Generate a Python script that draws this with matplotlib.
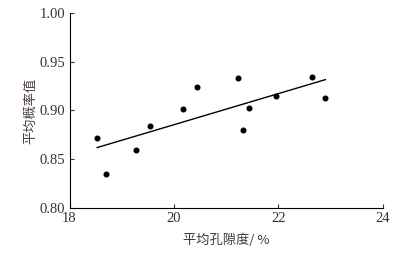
import numpy as np
import matplotlib
matplotlib.use("Agg")
import matplotlib.pyplot as plt

# 平均孔隙度 (%) 与 平均概率值
kongxidu = [18.53, 18.69, 19.27, 19.54, 20.17, 20.45, 21.23, 21.33, 21.43, 21.96, 22.64, 22.90]
gailv = [0.872, 0.835, 0.860, 0.884, 0.902, 0.924, 0.933, 0.880, 0.903, 0.915, 0.934, 0.913]

xticks = [18, 20, 22, 24]
yticks = [0.80, 0.85, 0.90, 0.95, 1.00]

plt.rcParams['font.family'] = ['Liberation Serif', 'Noto Sans CJK SC']

fig = plt.figure(figsize=(4.09, 2.54), dpi=100)
ax = fig.add_axes([0.170, 0.180, 0.766, 0.770])

ax.scatter(kongxidu, gailv, s=11, color='black', zorder=3)

# 线性拟合
k, b = np.polyfit(kongxidu, gailv, 1)
xs = np.array([min(kongxidu), max(kongxidu)])
ax.plot(xs, k * xs + b, color='black', lw=1.0)

ax.set_xlim(18, 24)
ax.set_ylim(0.80, 1.00)
ax.set_xticks(xticks)
ax.set_yticks(yticks)
ax.set_yticklabels([f"{v:.2f}" for v in yticks])
ax.tick_params(direction='in', length=3, width=0.8, labelsize=10.5, colors='#333333', pad=3)
ax.spines['top'].set_visible(False)
ax.spines['right'].set_visible(False)
for s in ['left', 'bottom']:
    ax.spines[s].set_linewidth(0.8)

ax.set_xlabel("平均孔隙度/ %", family=['Noto Sans CJK SC'], fontsize=9.5, color='#3a3a3a', labelpad=6)
ax.set_ylabel("平均概率值", family=['Noto Sans CJK SC'], fontsize=9.5, color='#4a3f3a', labelpad=2)

fig.savefig("out.png", dpi=100)
